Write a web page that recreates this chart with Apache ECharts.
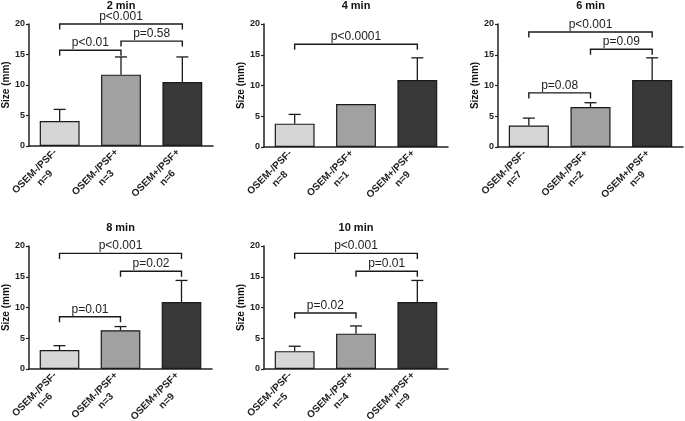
<!DOCTYPE html>
<html><head><meta charset="utf-8">
<script src="https://cdn.jsdelivr.net/npm/echarts@6/dist/echarts.min.js"></script>
<style>html,body{margin:0;padding:0;background:#fff}#c{width:685px;height:421px}</style>
</head><body><div id="c"></div>
<script>
const titles = ['2 min', '4 min', '6 min', '8 min', '10 min'];
const groups = ['OSEM-/PSF-', 'OSEM-/PSF+', 'OSEM+/PSF+'];
const yTicks = [0, 5, 10, 15, 20];
const nCounts = [[9, 3, 6], [8, 1, 9], [7, 2, 9], [6, 3, 9], [5, 4, 9]];
const means = [[4.1, 11.7, 10.5], [3.8, 7.0, 10.9], [3.5, 6.5, 10.9], [3.1, 6.3, 10.9], [2.9, 5.75, 10.9]];
const errTops = [[6.0, 14.6, 14.6], [5.3, null, 14.5], [4.7, 7.2, 14.5], [3.8, 6.9, 14.4], [3.7, 7.0, 14.4]];
// brackets: [fromGroup, toGroup, level (mm), label]
const brackets2 = [[0, 2, 20.0, 'p<0.001'], [0, 1, 15.7, 'p<0.01'], [1, 2, 17.2, 'p=0.58']];
const brackets4 = [[0, 2, 16.7, 'p<0.0001']];
const brackets6 = [[0, 2, 18.7, 'p<0.001'], [1, 2, 15.9, 'p=0.09'], [0, 1, 8.8, 'p=0.08']];
const brackets8 = [[0, 2, 18.8, 'p<0.001'], [1, 2, 15.9, 'p=0.02'], [0, 1, 8.5, 'p=0.01']];
const brackets10 = [[0, 2, 18.8, 'p<0.001'], [1, 2, 15.9, 'p=0.01'], [0, 1, 9.1, 'p=0.02']];
const bracketSets = [brackets2, brackets4, brackets6, brackets8, brackets10];

const FONT = 'Liberation Sans, Arial, sans-serif';
const barColors = ['#d6d6d6', '#a1a1a1', '#383838'];
const layout = [
  {left: 29, top: 24, width: 184, height: 122},
  {left: 264, top: 24, width: 184, height: 123},
  {left: 498, top: 24, width: 185, height: 123},
  {left: 29, top: 246, width: 183, height: 123},
  {left: 264, top: 246, width: 184, height: 123}
];

const chart = echarts.init(document.getElementById('c'), null, {renderer: 'canvas'});
const grid = [], xAxis = [], yAxis = [], series = [], title = [];

titles.forEach((t, i) => {
  const L = layout[i];
  grid.push({left: L.left, top: L.top, width: L.width, height: L.height, containLabel: false, outerBoundsMode: 'none'});
  title.push({
    text: t, left: L.left + L.width / 2, top: L.top - 24, textAlign: 'center', padding: 0,
    textStyle: {fontFamily: FONT, fontSize: 11, fontWeight: 'bold', color: '#111', lineHeight: 12}
  });
  const ns = nCounts[i];
  xAxis.push({
    type: 'category', gridIndex: i, data: groups,
    axisLine: {lineStyle: {color: '#222', width: 1.5}},
    axisTick: {alignWithLabel: true, length: 3, lineStyle: {color: '#222', width: 1.2}},
    axisLabel: {
      rotate: 45, margin: 9, interval: 0,
      fontFamily: FONT, fontSize: 10, fontWeight: 'bold', color: '#222', lineHeight: 12,
      formatter: (v, idx) => '{a|' + v + '}\n{b|n=' + ns[idx] + '}',
      rich: {
        a: {fontFamily: FONT, fontSize: 10, fontWeight: 'bold', color: '#222', lineHeight: 12},
        b: {fontFamily: FONT, fontSize: 10, fontWeight: 'bold', color: '#222', lineHeight: 12, padding: [0, 18, 0, 0]}
      }
    }
  });
  yAxis.push({
    type: 'value', gridIndex: i, min: yTicks[0], max: yTicks[yTicks.length - 1], interval: 5,
    name: 'Size (mm)', nameLocation: 'middle', nameGap: 17, nameRotate: 90,
    nameTextStyle: {fontFamily: FONT, fontSize: 10, fontWeight: 'bold', color: '#111'},
    axisLine: {show: true, lineStyle: {color: '#222', width: 1.5}},
    axisTick: {show: true, length: 3, lineStyle: {color: '#222', width: 1.2}},
    splitLine: {show: false},
    axisLabel: {margin: 4, fontFamily: FONT, fontSize: 9, fontWeight: 'bold', color: '#222'}
  });
  series.push({
    type: 'bar', xAxisIndex: i, yAxisIndex: i, barWidth: '65%',
    data: means[i].map((m, k) => ({value: m, itemStyle: {color: barColors[k], borderColor: '#1a1a1a', borderWidth: 1.2}})),
    silent: true, animation: false
  });
  series.push({
    type: 'custom', xAxisIndex: i, yAxisIndex: i, clip: false, silent: true, animation: false,
    data: means[i].map((m, k) => [k, m, errTops[i][k]]).filter(d => d[2] != null),
    renderItem: (params, api) => {
      const p0 = api.coord([api.value(0), api.value(1)]);
      const p1 = api.coord([api.value(0), api.value(2)]);
      const hw = 6;
      return {type: 'group', children: [
        {type: 'line', shape: {x1: p0[0], y1: p0[1], x2: p1[0], y2: p1[1]}, style: {stroke: '#1a1a1a', lineWidth: 1.3}},
        {type: 'line', shape: {x1: p1[0] - hw, y1: p1[1], x2: p1[0] + hw, y2: p1[1]}, style: {stroke: '#1a1a1a', lineWidth: 1.3}}
      ]};
    }
  });
  series.push({
    type: 'custom', xAxisIndex: i, yAxisIndex: i, clip: false, silent: true, animation: false,
    data: bracketSets[i],
    renderItem: (params, api) => {
      const a = api.coord([api.value(0), api.value(2)]);
      const b = api.coord([api.value(1), api.value(2)]);
      const drop = 5.5;
      const label = bracketSets[i][params.dataIndex][3];
      return {type: 'group', children: [
        {type: 'polyline', shape: {points: [[a[0], a[1] + drop], [a[0], a[1]], [b[0], b[1]], [b[0], b[1] + drop]]},
          style: {stroke: '#1a1a1a', lineWidth: 1.4, fill: null}},
        {type: 'text', style: {x: (a[0] + b[0]) / 2, y: a[1] - 1.5, text: label, align: 'center', verticalAlign: 'bottom',
          font: '12px ' + FONT, fill: '#222'}}
      ]};
    }
  });
});

chart.setOption({animation: false, backgroundColor: '#fff', title, grid, xAxis, yAxis, series});
</script></body></html>
